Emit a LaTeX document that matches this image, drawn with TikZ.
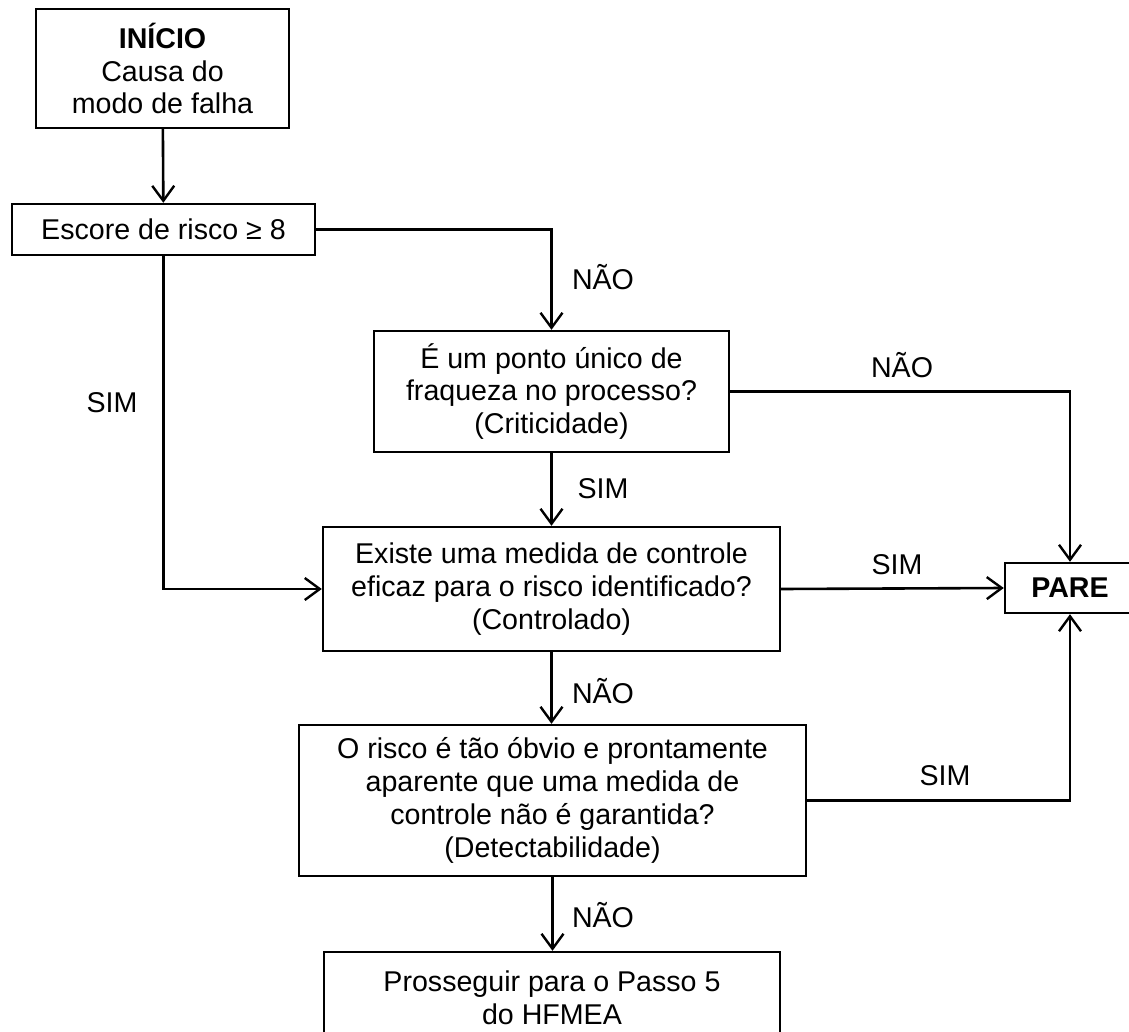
\documentclass[tikz,border=0pt]{standalone}
\usepackage{fontspec}
\setmainfont{Liberation Sans}
\usepackage{tikz}
\usetikzlibrary{arrows.meta}

\begin{document}
\begin{tikzpicture}[x=0.5pt, y=-0.5pt,
  every node/.style={font=\fontsize{14.3}{16.4}\selectfont},
  box/.style={draw=black, line width=1.2pt, align=center, inner sep=0pt},
  lbl/.style={inner sep=0pt},
  flow/.style={line width=1.3pt, -{Straight Barb[length=7.5pt, width=11pt, line width=1.2pt]}}]

\useasboundingbox (0,0) rectangle (1129,1032);

% Start and risk score
\path
(162.5, 68.5) node[box, minimum width=126.5pt, minimum height=59.5pt] (inicio) {\textbf{INÍCIO}\\Causa do\\modo de falha}
(163.5, 229.5) node[box, minimum width=151.5pt, minimum height=25.5pt] (escore) {Escore de risco ≥ 8};

% Criticality question
\path
(551.5, 391.5) node[box, minimum width=177.5pt, minimum height=60.5pt] (ponto) {É um ponto único de\\fraqueza no processo?\\(Criticidade)};

% Control question
\path
(551.5, 589) node[box, minimum width=228.5pt, minimum height=62pt] (existe) {Existe uma medida de controle\\eficaz para o risco identificado?\\(Controlado)}
(1070, 588) node[box, minimum width=65pt, minimum height=25pt] (pare) {\textbf{PARE}};

% Detectability question
\path
(552.5, 800.5) node[box, minimum width=253.5pt, minimum height=75.5pt] (risco) {O risco é tão óbvio e prontamente\\aparente que uma medida de\\controle não é garantida?\\(Detectabilidade)}
(552, 997.5) node[box, minimum width=228pt, minimum height=45.5pt] (passo) {Prosseguir para o Passo 5\\do HFMEA};

% Connectors
\draw[flow] (inicio) -- (escore);
\draw[flow] (escore.east) -| (ponto.north);
\draw[flow] (escore.south) |- (existe.west);
\draw[flow] (ponto.east) -| (pare.north);
\draw[flow] (ponto.south) -- (existe.north);
\draw[flow] (existe.east) -- (pare.west);
\draw[flow] (existe.south) -- (existe.south |- risco.north);
\draw[flow] (risco.east) -| (pare.south);
\draw[flow] (risco.south) -- (risco.south |- passo.north);

% Labels
\path
(603, 277) node[lbl] (naoA) {NÃO}
(112, 403) node[lbl] (simA) {SIM}
(902, 365) node[lbl] (naoB) {NÃO}
(603, 489) node[lbl] (simB) {SIM}
(897, 565) node[lbl] (simC) {SIM}
(603, 691) node[lbl] (naoC) {NÃO}
(945, 776) node[lbl] (simD) {SIM}
(603, 915) node[lbl] (naoD) {NÃO};

\end{tikzpicture}
\end{document}
